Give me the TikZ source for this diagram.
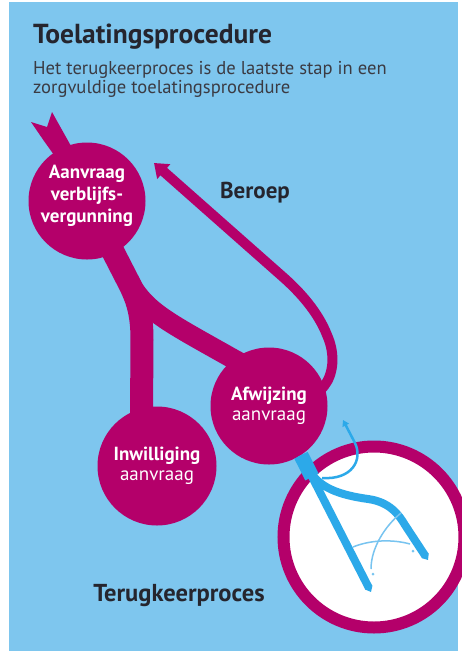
\documentclass[tikz,border=0pt]{standalone}
\usepackage{fontspec}
\setmainfont{PT Sans}
\usetikzlibrary{shapes, arrows.meta, backgrounds}

\definecolor{lucht}{HTML}{7EC6EE}
\definecolor{paars}{HTML}{B4006A}
\definecolor{weg}{HTML}{2CA9E9}
\definecolor{wegdun}{HTML}{78C4F0}
\definecolor{donker}{HTML}{25252E}

\begin{document}
\begin{tikzpicture}[x=1pt, y=-1pt]

\tikzstyle{bubble} = [circle, fill=paars, text=white, align=center, inner sep=0pt, minimum size=117pt]
\tikzstyle{kop} = [text=donker, inner sep=0pt, anchor=base, font=\bfseries\fontsize{23}{26}\selectfont]
\tikzstyle{intro} = [text=donker!90, inner sep=0pt, anchor=base west, font=\fontsize{18.6}{20}\selectfont]
\tikzstyle{stroom} = [draw=paars, line cap=butt]
\tikzstyle{arrow} = [draw=paars, line width=10pt, -{Triangle[width=19pt,length=13pt]}]
\tikzstyle{road} = [draw=weg, line width=8pt, -{Triangle[width=8pt,length=5pt]}]
\tikzstyle{spoor} = [draw=wegdun, line width=1.5pt]

\useasboundingbox (0,0) rectangle (462,657);

\node (titel) [kop, anchor=base west, font=\bfseries\fontsize{27.5}{30}\selectfont] at (33,43) {Toelatingsprocedure};
\node (intro1) [intro] at (33,74) {Het terugkeerproces is de laatste stap in een};
\node (intro2) [intro] at (33,93) {zorgvuldige toelatingsprocedure};

\node (aanvraag) [bubble, text depth=14pt, font=\bfseries\fontsize{19}{22}\selectfont] at (87,201) {Aanvraag\\verblijfs-\\vergunning};
\node (afwijzing) [bubble, font=\fontsize{19}{20}\selectfont] at (269,406) {\textbf{Afwijzing}\\aanvraag};
\node (inwilliging) [bubble, minimum size=119pt, font=\fontsize{19}{20}\selectfont] at (157,466) {\textbf{Inwilliging}\\aanvraag};
\node (terugkeer) [circle, draw=paars, line width=12pt, fill=white, minimum size=181pt] at (374,537) {};

\node (beroep) [kop] at (255,198) {Beroep};
\node (proces) [kop, font=\bfseries\fontsize{24.5}{26}\selectfont] at (179,601) {Terugkeerproces};

\coordinate (terug) at (154,163);

\draw [weg, line width=15pt] (afwijzing.-57) -- (312,477);
\draw [road] (afwijzing.-57) -- (371,592);
\draw [road] (308,468) .. controls (318,488) and (340,495) .. (368,499) .. controls (390,502) and (399,515) .. (405,525) -- (428,560);
\draw [weg, line width=2.5pt, -{Triangle[width=7pt,length=6pt]}] (322,478) .. controls (352,480) and (363,460) .. (355,443) -- (343,420);
\draw [spoor] (353,547) .. controls (370,540) and (392,539) .. (410,544);
\draw [spoor] (371,569) .. controls (371,548) and (385,526) .. (401,513);
\fill [wegdun] (373,574) circle (1.5);
\fill [wegdun] (413,551) circle (1.5);

\begin{scope}[on background layer]
\fill [white] (0,0) rectangle (462,657);
\fill [lucht] (9,2) rectangle (458,651);
\fill [paars] (44,141) -- (31,122) -- (47,127) -- (52,112) -- (71,146) -- (aanvraag.center) -- cycle;
\draw [stroom, line width=23pt] (aanvraag.center) -- (127,279) .. controls (137,298) and (142,312) .. (142,340) -- (inwilliging.105) -- ++(0,15);
\draw [stroom, line width=20pt] (129,281) .. controls (146,312) and (168,322) .. (afwijzing.127) -- ++(24,13);
\draw [arrow] ([xshift=-6pt,yshift=-7pt]afwijzing.20) -- (afwijzing.20) .. controls (333,375) and (336,355) .. (327,335) .. controls (318,312) and (300,292) .. (283,277) -- (terug);
\end{scope}

\end{tikzpicture}
\end{document}
